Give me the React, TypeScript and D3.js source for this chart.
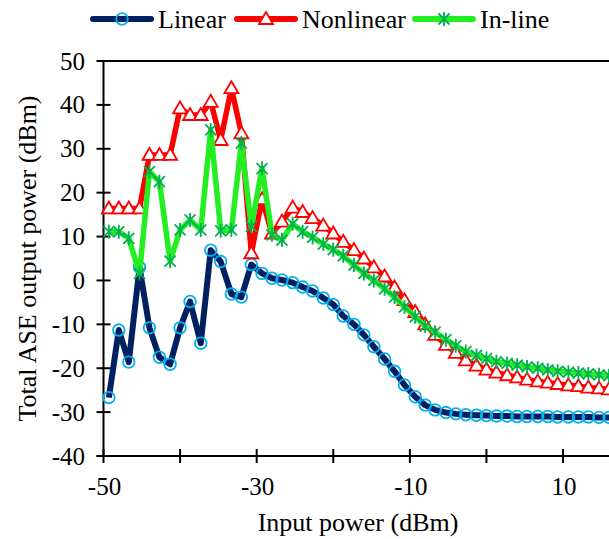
import React, { useEffect, useRef } from 'react';
import * as d3 from 'd3';

// input power categories (dBm)
const inputPower = [
  -49.3, -48.0, -46.7, -45.3, -44.0, -42.7, -41.3, -40.0, -38.7, -37.3,
  -36.0, -34.7, -33.3, -32.0, -30.7, -29.3, -28.0, -26.7, -25.3, -24.0,
  -22.7, -21.3, -20.0, -18.7, -17.3, -16.0, -14.7, -13.3, -12.0, -10.7,
  -9.3, -8.0, -6.7, -5.3, -4.0, -2.7, -1.3, 0.0, 1.3, 2.7,
  4.0, 5.3, 6.7, 8.0, 9.3, 10.7, 12.0, 13.3, 14.7, 16.0,
];

const linearAse = [
  -26.7, -11.3, -18.6, 3.0, -10.8, -17.5, -19.1, -10.8, -4.8, -14.3,
  6.9, 4.3, -3.1, -3.8, 3.6, 1.6, 0.5, 0.1, -0.5, -1.5,
  -2.4, -4.0, -5.5, -8.1, -10.0, -12.4, -15.1, -17.9, -20.7, -23.8,
  -26.5, -28.4, -29.5, -30.1, -30.4, -30.6, -30.7, -30.8, -30.9, -30.9,
  -31.0, -31.0, -31.0, -31.0, -31.1, -31.1, -31.1, -31.1, -31.2, -31.2,
];

const nonlinearAse = [
  16.4, 16.4, 16.4, 16.4, 28.6, 28.6, 28.6, 39.2, 37.7, 37.7,
  40.7, 32.0, 43.8, 33.5, 6.2, 18.5, 10.7, 13.4, 16.6, 15.6,
  14.2, 12.5, 10.7, 8.8, 6.9, 5.0, 3.0, 0.9, -1.6, -4.5,
  -7.2, -10.0, -12.4, -14.7, -16.5, -18.2, -19.4, -20.3, -21.0, -21.6,
  -22.1, -22.6, -23.0, -23.3, -23.6, -23.9, -24.1, -24.4, -24.6, -24.8,
];

const inlineAse = [
  11.1, 11.1, 9.6, 1.6, 24.8, 22.5, 4.4, 11.5, 13.8, 11.5,
  34.3, 11.3, 11.5, 31.3, 12.3, 25.5, 10.4, 9.2, 12.9, 11.1,
  9.8, 8.3, 7.0, 5.6, 3.5, 1.6, 0.0, -1.9, -3.8, -6.0,
  -8.3, -10.4, -11.8, -13.5, -14.9, -16.2, -17.1, -17.8, -18.5, -18.9,
  -19.3, -19.7, -20.0, -20.4, -20.7, -20.9, -21.1, -21.3, -21.5, -21.7,
];

const xTickLabels = [-50, -30, -10, 10];
const xTickMarks = [-50, -40, -30, -20, -10, 0, 10];
const yTicks = [-40, -30, -20, -10, 0, 10, 20, 30, 40, 50];

const FONT = 'Liberation Serif';

const App = () => {
  const svgRef = useRef<SVGSVGElement>(null);

  useEffect(() => {
    const svg = d3.select(svgRef.current);
    svg.selectAll('*').remove();
    const width = 609;
    const height = 539;

    const x = d3.scaleLinear().domain([-50, 16]).range([103.5, 609]);
    const y = d3.scaleLinear().domain([-40, 50]).range([456, 61]);

    const g = svg.append('g');

    // top border
    g.append('line')
      .attr('x1', x(-50)).attr('x2', width)
      .attr('y1', y(50)).attr('y2', y(50))
      .attr('stroke', '#000').attr('stroke-width', 2);

    // y axis
    g.append('line')
      .attr('x1', x(-50)).attr('x2', x(-50))
      .attr('y1', y(50)).attr('y2', y(-40))
      .attr('stroke', '#000').attr('stroke-width', 2);
    g.selectAll('.ytick').data(yTicks).join('line')
      .attr('class', 'ytick')
      .attr('x1', x(-50) - 7).attr('x2', x(-50) + 7)
      .attr('y1', (d) => y(d)).attr('y2', (d) => y(d))
      .attr('stroke', '#000').attr('stroke-width', 2);
    g.selectAll('.ylabel').data(yTicks).join('text')
      .attr('class', 'ylabel')
      .attr('x', 85)
      .attr('y', (d) => y(d))
      .attr('dy', '0.34em')
      .attr('text-anchor', 'end')
      .attr('font-family', FONT)
      .attr('font-size', 25)
      .text((d) => d);

    // x axis
    g.append('line')
      .attr('x1', x(-50) - 7).attr('x2', width)
      .attr('y1', y(-40)).attr('y2', y(-40))
      .attr('stroke', '#000').attr('stroke-width', 2);
    g.selectAll('.xtick').data(xTickMarks).join('line')
      .attr('class', 'xtick')
      .attr('x1', (d) => x(d)).attr('x2', (d) => x(d))
      .attr('y1', y(-40) - 7).attr('y2', y(-40) + 7)
      .attr('stroke', '#000').attr('stroke-width', 2);
    g.selectAll('.xlabel').data(xTickLabels).join('text')
      .attr('class', 'xlabel')
      .attr('x', (d) => x(d) + 1)
      .attr('y', 495)
      .attr('text-anchor', 'middle')
      .attr('font-family', FONT)
      .attr('font-size', 25)
      .text((d) => d);

    // axis titles
    g.append('text')
      .attr('x', 358).attr('y', 531)
      .attr('text-anchor', 'middle')
      .attr('font-family', FONT)
      .attr('font-size', 26)
      .text('Input power (dBm)');
    g.append('text')
      .attr('transform', `translate(36,${(y(50) + y(-40)) / 2}) rotate(-90)`)
      .attr('text-anchor', 'middle')
      .attr('font-family', FONT)
      .attr('font-size', 26)
      .text('Total ASE output power (dBm)');

    const line = d3.line<number>()
      .x((_, i) => x(inputPower[i]))
      .y((d) => y(d));

    const triPath = 'M0,-7L7,5L-7,5Z';
    const starPath = 'M-5.5,-5.5L5.5,5.5M-5.5,5.5L5.5,-5.5M0,-7L0,7';

    // Linear
    g.append('path').datum(linearAse)
      .attr('d', line)
      .attr('fill', 'none')
      .attr('stroke', '#002060')
      .attr('stroke-width', 6)
      .attr('stroke-linejoin', 'round');
    g.selectAll('.lin-pt').data(linearAse).join('circle')
      .attr('class', 'lin-pt')
      .attr('cx', (_, i) => x(inputPower[i]))
      .attr('cy', (d) => y(d))
      .attr('r', 5.8)
      .attr('fill', 'none')
      .attr('stroke', '#00B0F0')
      .attr('stroke-width', 1.8);

    // Nonlinear
    g.append('path').datum(nonlinearAse)
      .attr('d', line)
      .attr('fill', 'none')
      .attr('stroke', '#FF0000')
      .attr('stroke-width', 5.5)
      .attr('stroke-linejoin', 'round');
    g.selectAll('.nl-pt').data(nonlinearAse).join('path')
      .attr('class', 'nl-pt')
      .attr('transform', (d, i) => `translate(${x(inputPower[i])},${y(d)})`)
      .attr('d', triPath)
      .attr('fill', '#fff')
      .attr('stroke', '#FF0000')
      .attr('stroke-width', 1.8);

    // In-line
    g.append('path').datum(inlineAse)
      .attr('d', line)
      .attr('fill', 'none')
      .attr('stroke', '#22EE22')
      .attr('stroke-width', 5.5)
      .attr('stroke-linejoin', 'round');
    g.selectAll('.il-pt').data(inlineAse).join('path')
      .attr('class', 'il-pt')
      .attr('transform', (d, i) => `translate(${x(inputPower[i])},${y(d)})`)
      .attr('d', starPath)
      .attr('fill', 'none')
      .attr('stroke', '#00B050')
      .attr('stroke-width', 1.8);

    // legend
    const legendItems = [
      { name: 'Linear', x0: 93, tx: 158, color: '#002060', marker: 'circle' },
      { name: 'Nonlinear', x0: 237, tx: 302, color: '#FF0000', marker: 'tri' },
      { name: 'In-line', x0: 415, tx: 480, color: '#22EE22', marker: 'star' },
    ];
    const ly = 19;
    legendItems.forEach((item) => {
      g.append('line')
        .attr('x1', item.x0).attr('x2', item.x0 + 58)
        .attr('y1', ly).attr('y2', ly)
        .attr('stroke', item.color)
        .attr('stroke-width', 6)
        .attr('stroke-linecap', 'round');
      const cx = item.x0 + 29;
      if (item.marker === 'circle') {
        g.append('circle').attr('cx', cx).attr('cy', ly).attr('r', 5.8)
          .attr('fill', 'none').attr('stroke', '#00B0F0').attr('stroke-width', 1.8);
      } else if (item.marker === 'tri') {
        g.append('path').attr('transform', `translate(${cx},${ly})`).attr('d', triPath)
          .attr('fill', '#fff').attr('stroke', '#FF0000').attr('stroke-width', 1.8);
      } else {
        g.append('path').attr('transform', `translate(${cx},${ly})`).attr('d', starPath)
          .attr('fill', 'none').attr('stroke', '#00B050').attr('stroke-width', 1.8);
      }
      g.append('text')
        .attr('x', item.tx).attr('y', 28)
        .attr('font-family', FONT)
        .attr('font-size', 26)
        .text(item.name);
    });

    svg.attr('width', width).attr('height', height);
  }, []);

  return (
    <svg
      ref={svgRef}
      width={609}
      height={539}
      style={{ position: 'absolute', left: 0, top: 0, background: '#fff' }}
    />
  );
};

export default App;
